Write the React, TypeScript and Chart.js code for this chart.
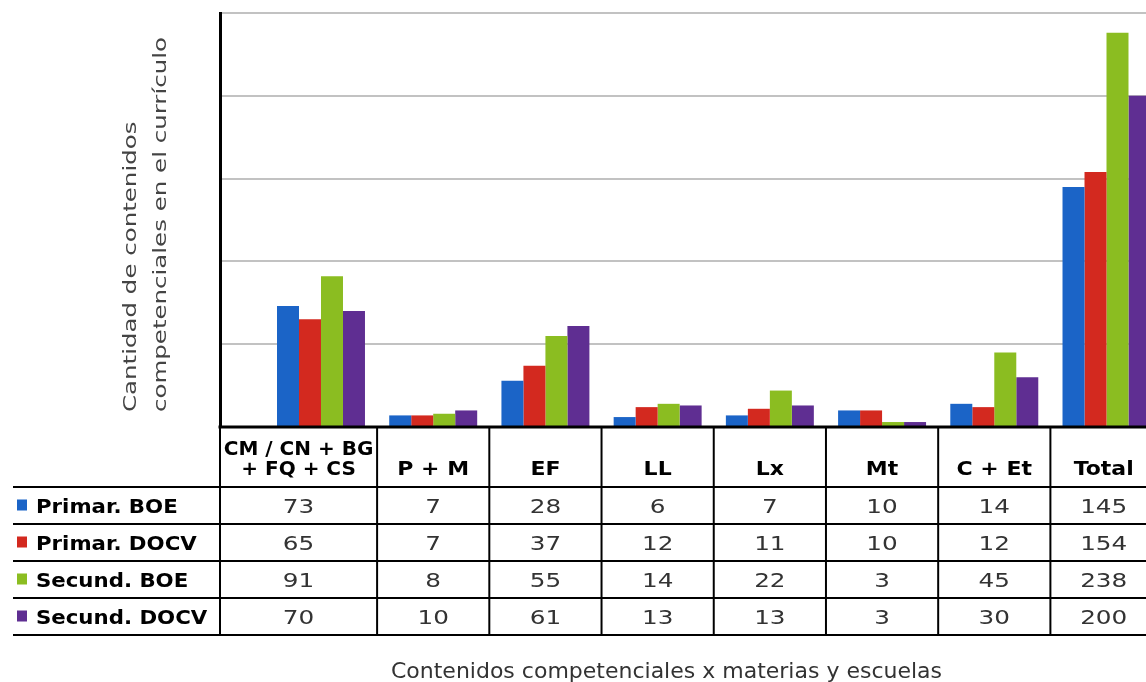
import React, { useEffect, useRef } from "react";
import { Chart, registerables } from "chart.js";

Chart.register(...registerables);

// ---- data ----
const categories: string[][] = [
  ["CM / CN + BG", "+ FQ + CS"],
  ["P + M"],
  ["EF"],
  ["LL"],
  ["Lx"],
  ["Mt"],
  ["C + Et"],
  ["Total"],
];
const seriesNames = ["Primar. BOE", "Primar. DOCV", "Secund. BOE", "Secund. DOCV"];
const primarBOE = [73, 7, 28, 6, 7, 10, 14, 145];
const primarDOCV = [65, 7, 37, 12, 11, 10, 12, 154];
const secundBOE = [91, 8, 55, 14, 22, 3, 45, 238];
const secundDOCV = [70, 10, 61, 13, 13, 3, 30, 200];
const yMin = 0;
const yMax = 250;
const yStep = 50;
const yTitleLines = ["Cantidad de contenidos", "competenciales en el currículo"];
const xTitle = "Contenidos competenciales x materias y escuelas";

// ---- styles / layout ----
const seriesColors = ["#1b64c7", "#d3291f", "#8bbd21", "#5f2e92"];
const FONT = '"DejaVu Sans", Verdana, sans-serif';
const X_MIN = -0.9;
const X_MAX = 7.45;

function drawText(
  ctx: CanvasRenderingContext2D,
  text: string,
  x: number,
  y: number,
  font: string,
  color: string,
  sx: number,
  align: CanvasTextAlign,
  rotate = 0
) {
  ctx.save();
  ctx.translate(x, y);
  if (rotate) ctx.rotate(rotate);
  ctx.scale(sx, 1);
  ctx.font = font;
  ctx.fillStyle = color;
  ctx.textAlign = align;
  ctx.textBaseline = "alphabetic";
  ctx.fillText(text, 0, 0);
  ctx.restore();
}

const tablePlugin = {
  id: "dataTable",
  beforeDraw(chart: any) {
    const { ctx } = chart;
    ctx.save();
    ctx.fillStyle = "#ffffff";
    ctx.fillRect(0, 0, chart.width, chart.height);
    ctx.restore();
  },
  afterDraw(chart: any) {
    const { ctx, chartArea } = chart;
    const xs = chart.scales.x;
    const n = categories.length;
    const centers = categories.map((_, i) => xs.getPixelForValue(i));
    const bounds: number[] = [chartArea.left];
    for (let i = 1; i < n; i++) bounds.push((centers[i - 1] + centers[i]) / 2);
    bounds.push(chartArea.right);

    const top = chartArea.bottom;
    const headerBottom = top + 60;
    const rowH = 37;
    const allSeries = chart.data.datasets;
    const tableBottom = headerBottom + rowH * allSeries.length;
    const labelLeft = 13;

    ctx.save();
    ctx.strokeStyle = "#000";
    ctx.lineWidth = 2;
    for (let r = 0; r <= allSeries.length; r++) {
      const y = headerBottom + r * rowH;
      ctx.beginPath();
      ctx.moveTo(labelLeft, y);
      ctx.lineTo(chartArea.right, y);
      ctx.stroke();
    }
    bounds.forEach((b) => {
      ctx.beginPath();
      ctx.moveTo(b, top);
      ctx.lineTo(b, tableBottom);
      ctx.stroke();
    });
    ctx.lineWidth = 3;
    ctx.beginPath();
    ctx.moveTo(chartArea.left - 1.5, top);
    ctx.lineTo(chartArea.right, top);
    ctx.stroke();
    ctx.restore();

    // headers
    const headFont = `bold 20px ${FONT}`;
    categories.forEach((lines, i) => {
      const cx = (bounds[i] + bounds[i + 1]) / 2;
      const lastBase = headerBottom - 12;
      lines.forEach((ln, k) => {
        const y = lastBase - (lines.length - 1 - k) * 20;
        drawText(ctx, ln, cx, y, headFont, "#000", lines.length > 1 ? 1.0 : 1.1, "center");
      });
    });

    // rows
    allSeries.forEach((ds: any, r: number) => {
      const cy = headerBottom + r * rowH + rowH / 2;
      ctx.save();
      ctx.fillStyle = ds.backgroundColor;
      ctx.fillRect(17, cy - 6, 10, 11);
      ctx.restore();
      drawText(ctx, ds.label, 36, cy + 7, `bold 19px ${FONT}`, "#000", 1.12, "left");
      ds.data.forEach((pt: any, i: number) => {
        const cx = (bounds[i] + bounds[i + 1]) / 2;
        drawText(ctx, String(pt.y), cx, cy + 7, `19px ${FONT}`, "#333", 1.3, "center");
      });
    });

    // axis titles
    const ytFont = `18px ${FONT}`;
    drawText(ctx, yTitleLines[0], 136, 412, ytFont, "#444", 1.36, "left", -Math.PI / 2);
    drawText(ctx, yTitleLines[1], 166, 412, ytFont, "#444", 1.36, "left", -Math.PI / 2);
    drawText(ctx, xTitle, (chartArea.left + chartArea.right) / 2 - 22, 678, `22px ${FONT}`, "#333", 1.0, "center");
  },
};

export default function App() {
  const ref = useRef<HTMLCanvasElement | null>(null);

  useEffect(() => {
    if (!ref.current) return;
    const series = [primarBOE, primarDOCV, secundBOE, secundDOCV];
    const forceX = (s: any) => {
      s.min = X_MIN;
      s.max = X_MAX;
    };
    const chart = new Chart(ref.current, {
      type: "bar",
      data: {
        datasets: series.map((vals, s) => ({
          label: seriesNames[s],
          data: vals.map((v, i) => ({ x: i, y: v })),
          backgroundColor: seriesColors[s],
          borderWidth: 0,
          categoryPercentage: 0.784,
          barPercentage: 1,
        })),
      },
      options: {
        responsive: false,
        animation: false,
        devicePixelRatio: 1,
        layout: { padding: { left: 220, right: 13, top: 13, bottom: 255 } },
        plugins: { legend: { display: false }, tooltip: { enabled: false }, title: { display: false } },
        scales: {
          x: {
            type: "linear",
            display: false,
            offset: false,
            min: X_MIN,
            max: X_MAX,
            grid: { display: false, offset: false },
            afterDataLimits: forceX,
            afterBuildTicks: (s: any) => {
              s.ticks = [];
              forceX(s);
            },
          },
          y: {
            min: yMin,
            max: yMax,
            ticks: { stepSize: yStep, display: false },
            grid: { color: "#c2c2c2", lineWidth: 2, drawTicks: false },
            border: { display: true, color: "#000", width: 3 },
          },
        },
      },
      plugins: [tablePlugin],
    });
    return () => chart.destroy();
  }, []);

  return (
    <div
      style={{
        position: "fixed",
        left: 0,
        top: 0,
        width: 1146,
        height: 682,
        overflow: "hidden",
        background: "#fff",
      }}
    >
      <canvas ref={ref} width={1170} height={682} style={{ display: "block", width: 1170, height: 682 }} />
    </div>
  );
}
